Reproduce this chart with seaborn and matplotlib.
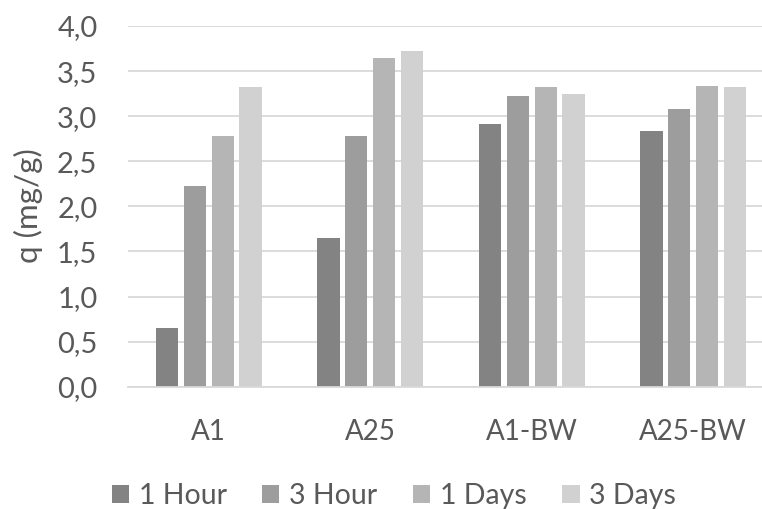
import matplotlib
matplotlib.use("Agg")
import matplotlib.pyplot as plt
import seaborn as sns
import pandas as pd
from matplotlib.patches import Patch

# Adsorbed amount q (mg/g) per sample and contact time
samples = ["A1", "A25", "A1-BW", "A25-BW"]
times = ["1 Hour", "3 Hour", "1 Days", "3 Days"]
q_1_hour = [0.65, 1.65, 2.91, 2.84]
q_3_hour = [2.23, 2.78, 3.22, 3.08]
q_1_days = [2.78, 3.65, 3.32, 3.34]
q_3_days = [3.32, 3.72, 3.25, 3.32]
y_ticks = [0.0, 0.5, 1.0, 1.5, 2.0, 2.5, 3.0, 3.5, 4.0]
y_tick_labels = ["0,0", "0,5", "1,0", "1,5", "2,0", "2,5", "3,0", "3,5", "4,0"]

colors = ["#838383", "#9d9d9d", "#b5b5b5", "#d1d1d1"]
text_color = "#595959"
grid_color = "#d9d9d9"

rows = []
for t, vals in zip(times, [q_1_hour, q_3_hour, q_1_days, q_3_days]):
    for s, v in zip(samples, vals):
        rows.append({"sample": s, "time": t, "q": v})
df = pd.DataFrame(rows)

sns.set_theme(style="white")
plt.rcParams["font.family"] = ["Lato", "DejaVu Sans"]

fig = plt.figure(figsize=(7.62, 5.09), dpi=100)
ax = fig.add_axes([128 / 762, (509 - 386.7) / 509, (774 - 128) / 762, (386.7 - 26) / 509])

sns.barplot(data=df, x="sample", y="q", hue="time", order=samples, hue_order=times,
            palette=colors, width=0.69, gap=0.2, saturation=1, ax=ax,
            linewidth=0, legend=False)

ax.set_ylim(0, 4.0)
ax.set_xlim(-0.5, 3.5)
ax.set_yticks(y_ticks)
ax.set_yticklabels(y_tick_labels)
ax.yaxis.grid(True, color=grid_color, linewidth=1.3)
ax.set_axisbelow(True)
for side in ["top", "right", "left"]:
    ax.spines[side].set_visible(False)
ax.spines["bottom"].set_color(grid_color)
ax.spines["bottom"].set_linewidth(1.3)
ax.tick_params(axis="both", length=0, colors=text_color)
ax.tick_params(axis="y", pad=22, labelsize=21)
ax.tick_params(axis="x", pad=23, labelsize=20)
ax.set_xlabel("")
ax.set_ylabel("")
fig.text(28 / 762, (509 - 206) / 509, "q (mg/g)", rotation=90, ha="center", va="center",
         color=text_color, fontsize=22.5)

handles = [Patch(facecolor=c, edgecolor="none", label=t) for c, t in zip(colors, times)]
leg = fig.legend(handles=handles, loc="center", bbox_to_anchor=(394 / 762, 0.026), ncol=4,
                 frameon=False, fontsize=20.5, handlelength=0.6, handleheight=0.6,
                 handletextpad=0.35, columnspacing=1.25, labelcolor=text_color)

fig.savefig("out.png", dpi=100)
